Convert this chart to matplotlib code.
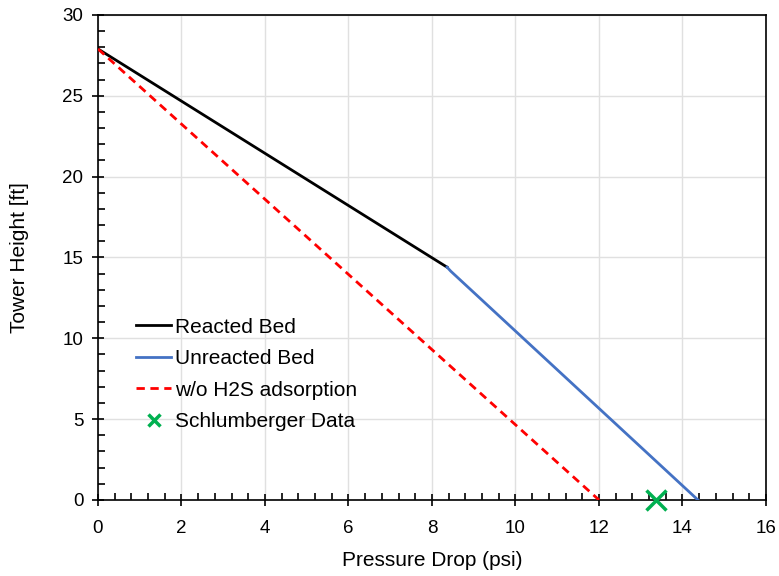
import matplotlib
matplotlib.use('Agg')
import matplotlib.pyplot as plt
from matplotlib.ticker import MultipleLocator

plt.rcParams['font.family'] = ['Liberation Sans', 'DejaVu Sans']

# data
reacted_x = [0.0, 8.36]
reacted_y = [27.9, 14.4]
unreacted_x = [8.36, 8.45, 14.37]
unreacted_y = [14.4, 14.15, 0.0]
no_h2s_x = [0.0, 12.0]
no_h2s_y = [27.9, 0.0]
schl_x = [13.37]
schl_y = [0.0]

fig = plt.figure(figsize=(7.79, 5.76), dpi=100)
ax = fig.add_axes([0.1258, 0.132, 0.8575, 0.842])

ax.plot(reacted_x, reacted_y, color='black', lw=2, label='Reacted Bed', zorder=3)
ax.plot(unreacted_x, unreacted_y, color='#4472C4', lw=2, label='Unreacted Bed', zorder=3)
ax.plot(no_h2s_x, no_h2s_y, color='#FF0000', lw=2, ls=(0, (3, 2)), label='w/o H2S adsorption', zorder=3)
ax.plot(schl_x, schl_y, ls='none', marker='x', ms=14, mew=2.5, color='#00B050',
        label='Schlumberger Data', zorder=4, clip_on=False)

ax.set_xlim(0, 16)
ax.set_ylim(0, 30)
ax.xaxis.set_major_locator(MultipleLocator(2))
ax.xaxis.set_minor_locator(MultipleLocator(0.4))
ax.yaxis.set_major_locator(MultipleLocator(5))
ax.yaxis.set_minor_locator(MultipleLocator(1))
ax.grid(True, which='major', color='#E0E0E0', lw=1, zorder=0)
ax.set_axisbelow(True)

ax.tick_params(which='major', direction='inout', length=9, width=1.2, labelsize=13.5, colors='black', pad=6)
ax.tick_params(axis='x', which='major', pad=10)
ax.tick_params(which='minor', direction='in', length=5, width=1.2)
ax.tick_params(top=False, right=False, which='both')
for s in ax.spines.values():
    s.set_linewidth(1.2)
    s.set_color('black')

ax.set_xlabel('Pressure Drop (psi)', fontsize=15, labelpad=10)
ax.set_ylabel('Tower Height [ft]', fontsize=15, labelpad=24)

leg = ax.legend(loc='lower left', bbox_to_anchor=(0.057, 0.142), frameon=False, fontsize=15,
                handlelength=1.7, handletextpad=0.15, labelspacing=0.6, borderpad=0,
                borderaxespad=0, markerscale=0.6)

fig.savefig('out.png', dpi=100)
